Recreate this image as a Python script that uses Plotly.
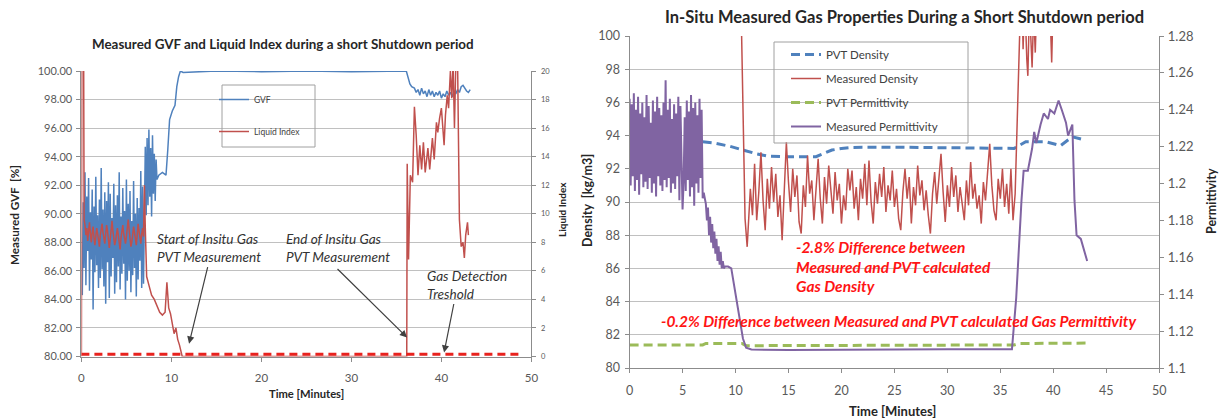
import plotly.graph_objects as go

W, H = 1223, 418

# ---------------- Left panel: GVF [%] and Liquid Index ----------------
# GVF, dense sampling every 0.1 min (0.1 .. 8.4 min)
gvf_fast_start, gvf_fast_step = 0.1, 0.1
gvf_fast = [
    84.3, 90.8, 86.2, 92.9, 85.0, 91.2, 87.4, 92.5, 84.6, 90.1,
    86.8, 91.7, 83.3, 90.5, 85.9, 92.6, 86.4, 89.9, 84.8, 91.0,
    85.5, 93.2, 86.1, 90.3, 84.9, 91.5, 83.7, 90.9, 86.6, 92.2,
    84.1, 91.4, 85.6, 89.7, 86.9, 92.1, 84.4, 90.6, 85.2, 91.3,
    86.3, 92.9, 84.7, 89.8, 85.8, 91.8, 86.5, 90.2, 84.0, 92.4,
    85.3, 90.7, 86.0, 91.6, 84.5, 89.5, 85.7, 92.3, 86.2, 90.0,
    84.2, 91.1, 85.4, 90.4, 86.7, 93.0, 84.8, 91.9, 85.1, 92.0,
    94.7, 89.9, 95.3, 90.6, 95.9, 91.2, 94.6, 89.8, 95.5, 91.4,
    94.2, 90.9, 93.8, 92.4,
]
# GVF, rise to 100 % and the shut-in plateau
gvf_mid_time = [8.6, 9.0, 9.4, 9.6, 9.8, 10.1, 10.4, 10.6, 10.8, 11.0, 11.3,
                15.0, 20.0, 25.0, 30.0, 36.1, 36.3, 36.5, 36.7]
gvf_mid = [92.7, 92.9, 92.7, 94.5, 96.6, 97.2, 97.6, 98.9, 99.6, 100.0, 99.9,
           100.0, 99.95, 100.0, 99.95, 100.0, 99.5, 99.1, 98.9]
# GVF after restart, every 0.2 min from 37.0 min
gvf_end_start, gvf_end_step = 37.0, 0.2
gvf_end = [
    98.8, 98.5, 98.7, 98.3, 98.8, 98.4, 98.6, 98.2, 98.7, 98.3,
    98.6, 98.2, 98.5, 98.3, 98.6, 98.1, 98.4, 98.2, 98.6, 98.3,
    98.5, 98.2, 98.6, 98.4, 98.7, 98.5, 98.9, 99.0, 98.8, 98.6,
    98.5, 98.7,
]

# Liquid Index, start-up spike
li_start_time = [0.0, 0.05, 0.25, 0.3]
li_start = [0.0, 21.0, 21.0, 9.6]
# Liquid Index, every 0.1 min from 0.4 min
li_fast_start, li_fast_step = 0.4, 0.1
li_fast = [
    9.2, 8.5, 9.0, 8.1, 8.8, 9.4, 8.6, 8.0, 8.7, 9.1,
    8.3, 7.8, 8.4, 9.0, 8.6, 8.2, 7.7, 8.5, 8.9, 9.3,
    8.7, 8.1, 7.9, 8.6, 9.2, 8.8, 8.3, 7.6, 8.2, 8.9,
    9.5, 8.8, 8.4, 7.8, 8.1, 8.7, 9.0, 8.5, 8.0, 7.5,
    8.3, 8.8, 9.2, 8.6, 8.1, 7.9, 8.4, 9.0, 9.6, 8.9,
    8.2, 7.7, 8.0, 8.6, 9.1, 8.7, 8.3, 7.8, 8.5, 9.3,
    8.8, 8.2, 7.9, 8.6, 9.0, 8.4,
]
# Liquid Index, decay, shut-in and restart
li_rest_time = [7.0, 7.1, 7.25, 7.5, 7.8, 8.1, 8.4, 8.7, 9.0, 9.3, 9.5, 9.7, 9.9,
                10.1, 10.3, 10.5, 10.7, 10.9, 11.1, 11.2, 36.15,
                36.2, 36.35, 36.55, 36.8, 37.0, 37.2, 37.4, 37.6, 37.8, 38.0,
                38.2, 38.5, 38.7, 39.0, 39.2, 39.45, 39.6, 39.8, 40.0, 40.3,
                40.45, 40.65, 40.8, 41.0, 41.15, 41.3, 41.45, 41.6, 41.8, 42.0,
                42.2, 42.4, 42.55, 42.7, 42.9, 43.0]
li_rest = [12.0, 9.0, 5.6, 5.0, 4.3, 4.0, 3.5, 3.1, 2.9, 3.1, 5.2, 3.4, 3.0,
           2.2, 1.6, 2.0, 1.2, 0.8, 0.3, 0.0, 0.0,
           13.5, 6.8, 12.7, 12.2, 17.5, 15.5, 12.7, 14.8, 13.1, 15.0,
           12.9, 14.6, 13.1, 15.3, 13.8, 16.4, 15.7, 16.7, 17.4, 14.8,
           16.9, 18.3, 17.4, 20.0, 18.1, 20.5, 16.0, 20.5, 20.5, 9.6,
           7.7, 8.0, 6.9, 8.5, 9.4, 8.5]

# Gas detection threshold on the Liquid Index axis
threshold_time = [0.0, 49.0]
threshold_level = [0.15, 0.15]

gvf_ticks = [80, 82, 84, 86, 88, 90, 92, 94, 96, 98, 100]
li_ticks = [0, 2, 4, 6, 8, 10, 12, 14, 16, 18, 20]
time_ticks_left = [0, 10, 20, 30, 40, 50]

# ---------------- Right panel: density and permittivity ----------------
pvt_density_time = [6.9, 8.0, 9.5, 10.7, 12.0, 13.0, 15.0, 17.6, 18.3, 19.1, 20.0,
                    21.0, 25.0, 30.0, 36.3, 37.4, 39.3, 40.7, 41.8, 42.8]
pvt_density = [93.63, 93.55, 93.35, 93.13, 92.9, 92.77, 92.72, 92.73, 92.9, 93.13,
               93.22, 93.29, 93.3, 93.28, 93.23, 93.63, 93.63, 93.40, 93.93, 93.77]

meas_density_head_time = [10.4, 10.7, 10.9, 11.1]
meas_density_head = [106.0, 95.0, 89.0, 87.3]
# Measured density, every 0.2 min from 11.2 min
meas_density_start, meas_density_step = 11.2, 0.2
meas_density_mid = [
    88.5, 90.8, 89.2, 92.3, 88.9, 90.6, 93.0, 90.1, 88.3, 91.4,
    89.6, 92.1, 90.0, 91.7, 89.1, 90.4, 87.7, 90.9, 93.6, 91.2,
    89.4, 92.0, 90.3, 91.6, 88.8, 88.1, 91.0, 89.7, 92.8, 90.5,
    91.3, 88.9, 90.8, 92.6, 90.2, 88.7, 91.5, 89.9, 92.2, 90.6,
    89.3, 91.8, 90.1, 91.1, 88.7, 90.4, 89.5, 92.0, 90.7, 91.9,
    89.6, 90.9, 88.9, 91.4, 90.2, 92.3, 89.8, 92.5, 90.0, 88.7,
    91.2, 89.9, 91.7, 90.3, 92.1, 89.4, 91.0, 90.1, 91.9, 89.7,
    90.8, 89.0, 88.3, 90.6, 92.0, 90.2, 91.5, 88.7, 90.9, 89.8,
    92.2, 90.4, 91.3, 89.5, 90.7, 89.2, 88.1, 90.5, 91.8, 89.9,
    91.2, 92.9, 90.6, 88.8, 91.0, 89.7, 92.1, 90.3, 91.6, 89.4,
    90.9, 90.0, 88.9, 91.3, 89.8, 92.4, 90.2, 91.1, 89.6, 90.4,
    88.7, 91.2, 90.1, 91.8, 93.5, 91.0, 89.5, 88.9, 91.4, 90.2,
    92.0, 89.7, 91.1, 89.3, 92.0, 88.9,
]
meas_density_tail_time = [36.4, 36.6, 36.8, 37.0, 37.15, 37.3, 37.5, 37.6, 37.75,
                          37.9, 38.0, 38.15, 38.3, 38.5, 38.8, 39.0, 39.4, 39.7,
                          39.85, 40.0, 40.5, 41.0, 42.0, 43.0]
meas_density_tail = [90.5, 95.0, 101.5, 104.0, 99.2, 102.5, 98.6, 97.6, 101.8,
                     99.3, 98.1, 101.5, 99.0, 103.5, 100.6, 104.0, 106.0, 101.5,
                     98.4, 102.5, 107.0, 109.0, 110.0, 110.0]

pvt_perm_time = [0.0, 6.9, 7.2, 10.6, 11.0, 19.0, 19.5, 36.3, 36.8, 43.2]
pvt_perm = [1.1125, 1.1125, 1.1133, 1.1133, 1.1121, 1.1121, 1.1125, 1.1125,
            1.1133, 1.1135]

# Measured permittivity, every 0.1 min from 0 to 6.9 min
meas_perm_start, meas_perm_step = 0.0, 0.1
meas_perm_fast = [
    1.246, 1.199, 1.243, 1.204, 1.249, 1.196, 1.240, 1.202, 1.247, 1.194,
    1.238, 1.205, 1.244, 1.198, 1.236, 1.201, 1.248, 1.197, 1.242, 1.203,
    1.233, 1.195, 1.245, 1.200, 1.239, 1.193, 1.247, 1.204, 1.241, 1.199,
    1.237, 1.196, 1.244, 1.202, 1.256, 1.198, 1.240, 1.203, 1.246, 1.195,
    1.235, 1.200, 1.243, 1.197, 1.238, 1.204, 1.247, 1.191, 1.242, 1.199,
    1.186, 1.201, 1.236, 1.196, 1.245, 1.202, 1.239, 1.193, 1.248, 1.198,
    1.241, 1.188, 1.244, 1.200, 1.237, 1.195, 1.246, 1.203, 1.240, 1.192,
]
meas_perm_rest_time = [7.0, 7.2, 7.3, 7.4, 7.5, 7.6, 7.7, 7.8, 7.9, 8.0, 8.1, 8.2,
                       8.3, 8.4, 8.5, 8.6, 8.7, 8.8, 8.9, 9.0, 9.3, 9.6, 9.9,
                       10.3, 10.7, 11.0, 11.5, 15.0, 20.0, 25.0, 30.0, 36.1,
                       36.5, 37.0, 37.2, 37.6, 38.0, 38.2, 38.4, 38.8, 39.1,
                       39.5, 39.7, 40.1, 40.5, 40.8, 41.2, 41.4, 41.8, 42.0,
                       42.2, 42.6, 43.0, 43.2]
meas_perm_rest = [1.195, 1.189, 1.180, 1.187, 1.172, 1.182, 1.168, 1.178, 1.165,
                  1.174, 1.162, 1.170, 1.158, 1.166, 1.156, 1.163, 1.154, 1.158,
                  1.154, 1.155, 1.155, 1.154, 1.143, 1.129, 1.116, 1.111, 1.110,
                  1.1098, 1.1100, 1.1101, 1.1101, 1.1102,
                  1.138, 1.191, 1.207, 1.207, 1.219, 1.228, 1.222, 1.232, 1.238,
                  1.235, 1.240, 1.238, 1.245, 1.240, 1.233, 1.226, 1.232, 1.191,
                  1.172, 1.170, 1.161, 1.158]

density_ticks = [80, 82, 84, 86, 88, 90, 92, 94, 96, 98, 100]
perm_ticks = [1.1, 1.12, 1.14, 1.16, 1.18, 1.2, 1.22, 1.24, 1.26, 1.28]
perm_tick_text = ["1.1", "1.12", "1.14", "1.16", "1.18", "1.2", "1.22", "1.24", "1.26", "1.28"]
time_ticks_right = [0, 5, 10, 15, 20, 25, 30, 35, 40, 45, 50]


def sampled(start, step, values):
    return [round(start + step * i, 3) for i in range(len(values))]


def fx(px):
    return px / W


def fy(py):
    return 1 - py / H


gvf_time = (sampled(gvf_fast_start, gvf_fast_step, gvf_fast) + gvf_mid_time
            + sampled(gvf_end_start, gvf_end_step, gvf_end))
gvf_value = gvf_fast + gvf_mid + gvf_end
li_time = li_start_time + sampled(li_fast_start, li_fast_step, li_fast) + li_rest_time
li_value = li_start + li_fast + li_rest
md_time = (meas_density_head_time
           + sampled(meas_density_start, meas_density_step, meas_density_mid)
           + meas_density_tail_time)
md_value = meas_density_head + meas_density_mid + meas_density_tail
mp_time = sampled(meas_perm_start, meas_perm_step, meas_perm_fast) + meas_perm_rest_time
mp_value = meas_perm_fast + meas_perm_rest

BLUE = "#4f81bd"
RED = "#c0504d"
GREEN = "#9bbb59"
PURPLE = "#8064a2"
GRID = "#c0c0c0"
AXIS = "#8c8c8c"
TICK = "#595959"
TITLE = "#262626"
FONT = "Lato, 'Open Sans', sans-serif"

fig = go.Figure()

# Left panel traces
fig.add_trace(go.Scatter(x=gvf_time, y=gvf_value, name="GVF", mode="lines",
                         line=dict(color=BLUE, width=1.5), xaxis="x", yaxis="y",
                         legend="legend", legendgroup="gvf"))
fig.add_trace(go.Scatter(x=li_time, y=li_value, name="Liquid Index", mode="lines",
                         line=dict(color=RED, width=1.5), xaxis="x", yaxis="y2",
                         legend="legend", legendgroup="li"))
fig.add_trace(go.Scatter(x=threshold_time, y=threshold_level, mode="lines",
                         line=dict(color="#e8221e", width=3, dash="8px,5px"),
                         xaxis="x", yaxis="y2", showlegend=False, hoverinfo="skip"))

# Right panel traces
fig.add_trace(go.Scatter(x=pvt_density_time, y=pvt_density, name="PVT Density", mode="lines",
                         line=dict(color=BLUE, width=3, dash="9px,5px"),
                         xaxis="x2", yaxis="y3", legend="legend2", legendgroup="pd"))
fig.add_trace(go.Scatter(x=md_time, y=md_value, name="Measured Density", mode="lines",
                         line=dict(color=RED, width=1.5),
                         xaxis="x2", yaxis="y3", legend="legend2", legendgroup="md"))
fig.add_trace(go.Scatter(x=pvt_perm_time, y=pvt_perm, name="PVT Permittivity", mode="lines",
                         line=dict(color=GREEN, width=3, dash="9px,5px"),
                         xaxis="x2", yaxis="y4", legend="legend2", legendgroup="pp"))
fig.add_trace(go.Scatter(x=mp_time, y=mp_value, name="Measured Permittivity", mode="lines",
                         line=dict(color=PURPLE, width=2),
                         xaxis="x2", yaxis="y4", legend="legend2", legendgroup="mp"))


def axis_style(size, standoff=0):
    return dict(showline=True, linecolor=AXIS, linewidth=1, ticks="outside",
                tickcolor=AXIS, ticklen=4, zeroline=False, automargin=False,
                ticklabelstandoff=standoff,
                tickfont=dict(family=FONT, color=TICK, size=size))


fig.update_layout(
    width=W, height=H,
    margin=dict(l=0, r=0, t=0, b=0, autoexpand=False),
    paper_bgcolor="white", plot_bgcolor="white",
    xaxis=dict(domain=[fx(81.4), fx(531.4)], anchor="y", range=[0, 50],
               tickvals=time_ticks_left, showgrid=False, **axis_style(11.5, 7)),
    yaxis=dict(domain=[fy(356.5), fy(71)], anchor="x", range=[80, 100],
               tickvals=gvf_ticks, tickformat=".2f", ticksuffix=" %",
               showgrid=True, gridcolor=GRID, **axis_style(11, 2)),
    yaxis2=dict(overlaying="y", side="right", anchor="x", range=[0, 20],
                tickvals=li_ticks, showgrid=False, **axis_style(7.5, 3)),
    xaxis2=dict(domain=[fx(629.6), fx(1159.2)], anchor="y3", range=[0, 50],
                tickvals=time_ticks_right, showgrid=False, **axis_style(12.5, 7)),
    yaxis3=dict(domain=[fy(368), fy(36)], anchor="x2", range=[80, 100],
                tickvals=density_ticks, showgrid=True, gridcolor=GRID, **axis_style(12.5, 2)),
    yaxis4=dict(overlaying="y3", side="right", anchor="x2", range=[1.1, 1.28],
                tickvals=perm_ticks, ticktext=perm_tick_text, showgrid=False,
                **axis_style(13, 1)),
    legend=dict(x=fx(214), y=fy(85), xanchor="left", yanchor="top",
                bgcolor="rgba(0,0,0,0)", tracegroupgap=13,
                font=dict(family=FONT, size=8.5, color="#404040")),
    legend2=dict(x=fx(786), y=fy(40), xanchor="left", yanchor="top",
                 bgcolor="rgba(0,0,0,0)", tracegroupgap=5,
                 font=dict(family=FONT, size=11.5, color="#404040")),
    showlegend=True,
)

# Legend frames
fig.add_shape(type="rect", xref="paper", yref="paper",
              x0=fx(222), x1=fx(315), y0=fy(147), y1=fy(85),
              line=dict(color="#a0a0a0", width=1))
fig.add_shape(type="rect", xref="paper", yref="paper",
              x0=fx(774), x1=fx(968), y0=fy(143), y1=fy(42),
              line=dict(color="#a0a0a0", width=1))


def centered(text, px, py, size, angle=0, color=TITLE):
    return dict(text=text, x=fx(px), y=fy(py), xanchor="center", yanchor="middle",
                textangle=angle, font=dict(family=FONT, size=size, color=color))


def left_text(text, px, py, size, color, anchor_y="middle"):
    return dict(text=text, x=fx(px), y=fy(py), xanchor="left", yanchor=anchor_y,
                align="left", font=dict(family=FONT, size=size, color=color))


CALLOUT = "#333333"
NOTE_RED = "#ff1414"
annotations = [
    # titles
    centered("<b>Measured GVF and Liquid Index during a short Shutdown period</b>", 283, 44, 13.4),
    centered("<b>In-Situ Measured Gas Properties During a Short Shutdown period</b>", 904, 17, 16.5),
    # axis titles
    centered("<b>Time [Minutes]</b>", 306, 393, 11.2),
    centered("<b>Time [Minutes]</b>", 892, 411, 13),
    centered("<b>Measured GVF  [%]</b>", 14, 215, 11.7, -90),
    centered("<b>Liquid Index</b>", 562, 210, 10, -90),
    centered("<b>Density  [kg/m3]</b>", 587, 201, 12.5, -90),
    centered("<b>Permittivity</b>", 1211, 201, 12.5, -90),
    # left panel call-outs
    left_text("<i>Start of Insitu Gas<br>PVT Measurement</i>", 155, 229, 13.6, CALLOUT, "top"),
    left_text("<i>End of Insitu Gas<br>PVT Measurement</i>", 284, 229, 13.6, CALLOUT, "top"),
    left_text("<i>Gas Detection<br>Treshold</i>", 425, 266, 13.6, CALLOUT, "top"),
    # right panel call-outs
    left_text("<b><i>-2.8% Difference between</i></b>", 794, 247, 15.5, NOTE_RED),
    left_text("<b><i>Measured and PVT calculated</i></b>", 794, 267, 15.5, NOTE_RED),
    left_text("<b><i>Gas Density</i></b>", 794, 286, 15.5, NOTE_RED),
    left_text("<b><i>-0.2% Difference between Measured and PVT calculated Gas Permittivity</i></b>",
              659, 321, 15.5, NOTE_RED),
]
for a in annotations:
    a.update(xref="paper", yref="paper", showarrow=False)
    fig.add_annotation(**a)

# arrows pointing at the start/end of the measurement and the threshold
arrows = [
    dict(x=11.96, y=0.9, ax=19, ay=-78),
    dict(x=36.18, y=1.33, ax=-71, ay=-70),
    dict(x=40.3, y=0.28, ax=10, ay=-50),
]
for a in arrows:
    fig.add_annotation(text="", xref="x", yref="y2", showarrow=True,
                       arrowhead=2, arrowsize=1.2, arrowwidth=1.2,
                       arrowcolor="#404040", **a)

fig.write_html("out.html")
